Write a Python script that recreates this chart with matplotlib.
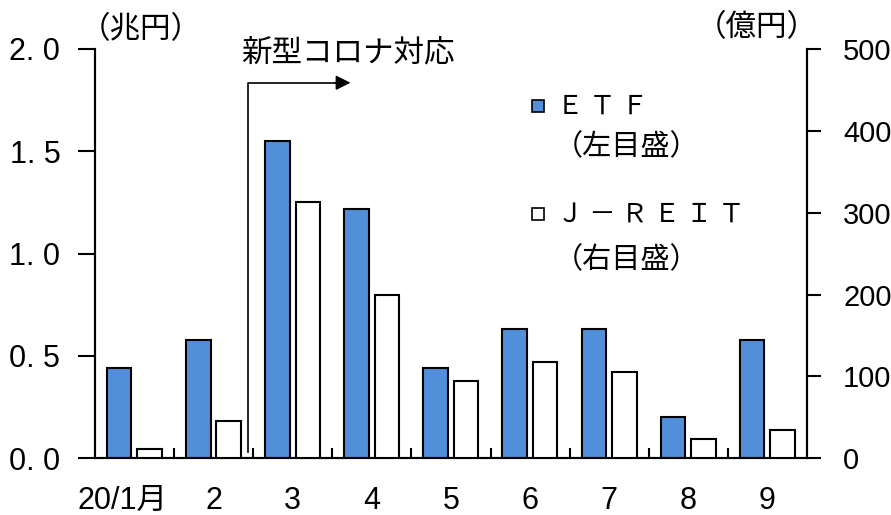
import matplotlib
matplotlib.use('Agg')
import matplotlib.pyplot as plt
import matplotlib.transforms as mtransforms
import numpy as np

# monthly purchases
months = ['20/1月', '2', '3', '4', '5', '6', '7', '8', '9']
etf = [0.44, 0.58, 1.55, 1.22, 0.44, 0.63, 0.63, 0.20, 0.58]      # 兆円
jreit = [11, 45, 313, 200, 94, 118, 105, 24, 34]                   # 億円

left_ticks = [0.0, 0.5, 1.0, 1.5, 2.0]
left_labels = ['0. 0', '0. 5', '1. 0', '1. 5', '2. 0']
right_ticks = [0, 100, 200, 300, 400, 500]

blue = '#528fdb'

num_font = 'Liberation Sans'
jp_font = 'Noto Sans CJK JP'
plt.rcParams['font.family'] = [num_font, jp_font]

fig = plt.figure(figsize=(8.91, 5.15), dpi=100)
ax = fig.add_axes([95 / 891, 56.7 / 515, 712 / 891, 409.3 / 515])
ax2 = ax.twinx()

x = np.arange(len(months))
w = 0.31
ax.bar(x - 0.195, etf, w, color=blue, edgecolor='black', linewidth=1.5, zorder=3)
ax2.bar(x + 0.19, jreit, w, color='white', edgecolor='black', linewidth=1.5, zorder=3)

ax.set_xlim(-0.5, len(months) - 0.5)
ax.set_ylim(0, 2.0)
ax2.set_ylim(0, 500)

# ticks
ax.set_yticks(left_ticks)
ax.set_yticklabels(left_labels)
ax.tick_params(axis='y', direction='out', length=12, width=1.5, pad=13, labelsize=22)
ax2.set_yticks(right_ticks)
ax2.tick_params(axis='y', direction='out', length=10, width=1.5, pad=16, labelsize=21)

ax.set_xticks(x[:-1] + 0.5)
ax.set_xticklabels([])
ax.set_xticks(x, minor=True)
ax.set_xticklabels(months, minor=True)
ax.tick_params(axis='x', which='major', direction='in', length=7, width=1.5)
ax.tick_params(axis='x', which='minor', length=0, pad=20, labelsize=22)

# first month label sits a little to the left
first = ax.get_xticklabels(minor=True)[0]
first.set_transform(first.get_transform()
                    + mtransforms.ScaledTranslation(-9 / 72, 0, fig.dpi_scale_trans))

for a in (ax, ax2):
    a.spines['top'].set_visible(False)
    for s in ('left', 'right', 'bottom'):
        a.spines[s].set_linewidth(1.5)
        a.spines[s].set_color('black')
ax.spines['bottom'].set_color('#404040')

# 新型コロナ対応 marker
x0, x1 = 1.43, 2.73
ax.plot([x0, x0, x1 - 0.15], [0.03, 1.835, 1.835], color='black', lw=1.2, clip_on=False, zorder=4)
ax.annotate('', xy=(x1, 1.835), xytext=(x1 - 0.2, 1.835),
            arrowprops=dict(arrowstyle='-|>', color='black', lw=1.2, mutation_scale=22,
                            shrinkA=0, shrinkB=0), zorder=4)
ax.text(1.35, 1.98, '新型コロナ対応', ha='left', va='center', fontsize=22,
        family=[jp_font], clip_on=False)

# units
fig.text(141 / 891, 1 - 30 / 515, '（兆円）', ha='center', va='center', fontsize=22, family=[jp_font])
fig.text(757 / 891, 1 - 28 / 515, '（億円）', ha='center', va='center', fontsize=22, family=[jp_font])

# legend
ax2.plot([0.622], [0.861], 's', ms=8, mfc=blue, mec='black', mew=1.2,
         transform=ax2.transAxes, clip_on=False)
ax2.plot([0.622], [0.597], 's', ms=8, mfc='white', mec='black', mew=1.2,
         transform=ax2.transAxes, clip_on=False)
ax2.text(0.649, 0.861, 'Ｅ Ｔ Ｆ', transform=ax2.transAxes, ha='left', va='center',
         fontsize=19, family=[jp_font])
ax2.text(0.645, 0.76, '（左目盛）', transform=ax2.transAxes, ha='left', va='center',
         fontsize=21, family=[jp_font])
ax2.text(0.649, 0.597, 'Ｊ － Ｒ Ｅ Ｉ Ｔ', transform=ax2.transAxes, ha='left', va='center',
         fontsize=19, family=[jp_font])
ax2.text(0.645, 0.485, '（右目盛）', transform=ax2.transAxes, ha='left', va='center',
         fontsize=21, family=[jp_font])

fig.savefig('out.png', dpi=100, facecolor='white')
